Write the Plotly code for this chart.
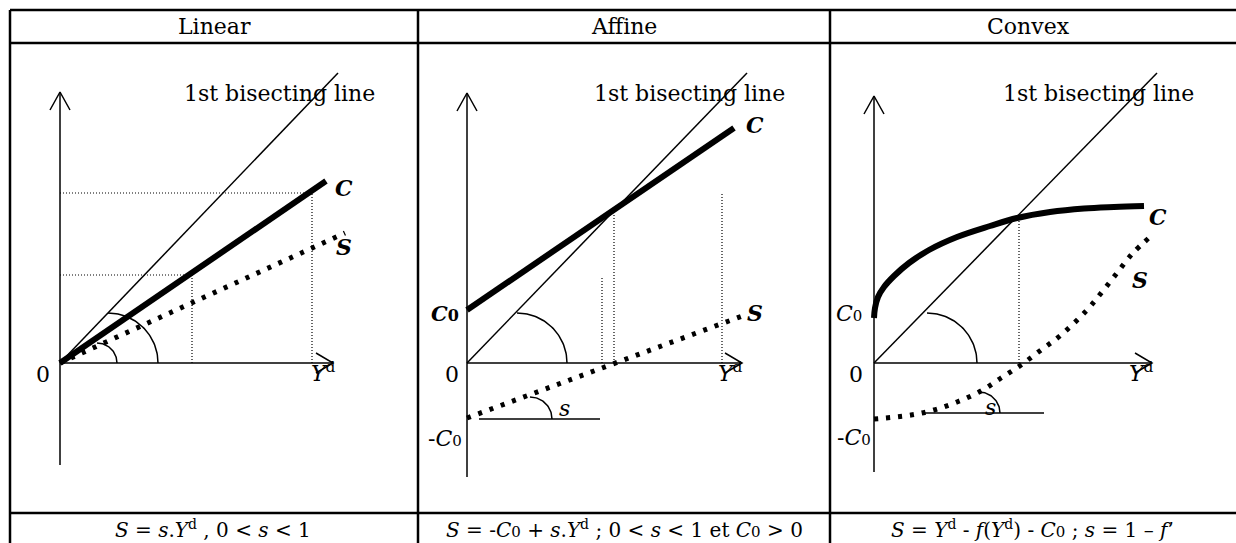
import numpy as np
import plotly.graph_objects as go

W, H = 1236, 543
FONT = "DejaVu Serif"

# table grid, in page pixels
COL_EDGES = [10, 418, 830, 1236]
ROW_EDGES = [10, 43, 513]
HEADERS = ["Linear", "Affine", "Convex"]
SUB0 = "<span style='font-size:15px'>0</span>"
FOOTERS = [
    "<i>S</i> = <i>s</i>.<i>Y</i><sup>d</sup> , 0 &lt; <i>s</i> &lt; 1",
    "<i>S</i> = -<i>C</i>" + SUB0 + " + <i>s</i>.<i>Y</i><sup>d</sup> ; 0 &lt; <i>s</i> &lt; 1 et <i>C</i>" + SUB0 + " &gt; 0",
    "<i>S</i> = <i>Y</i><sup>d</sup> - <i>f</i>(<i>Y</i><sup>d</sup>) - <i>C</i>" + SUB0 + " ; <i>s</i> = 1 – <i>f</i>’",
]
HEADER_X = [214, 624, 1028]
FOOTER_X = [213, 624, 1032]

# origin of each panel (page pixels); panel data below is offset from it, y pointing up
ORIGINS = [(60, 363), (467, 363), (874, 363)]

# ---- Linear panel
LIN_AXIS_TOP, LIN_AXIS_BOTTOM, LIN_AXIS_RIGHT = 271, -102, 273
LIN_BISECT_X = [0, 278]
LIN_BISECT_Y = [0, 290]
LIN_C_X = [0, 266]
LIN_C_Y = [0, 182]
LIN_S_X = [0, 285]
LIN_S_Y = [0, 130]
LIN_GUIDE_H = [(0, 252, 170), (0, 132, 88)]      # (x0, x1, y)
LIN_GUIDE_V = [(252, 0, 170), (132, 0, 88)]      # (x, y0, y1)
LIN_ARCS = [(48, 0, 50), (37, 0, 20)]            # (cx, cy, r)

# ---- Affine panel
AFF_AXIS_TOP, AFF_AXIS_BOTTOM, AFF_AXIS_RIGHT = 270, -114, 275
AFF_BISECT_X = [0, 280]
AFF_BISECT_Y = [0, 290]
AFF_C_X = [0, 267]
AFF_C_Y = [53, 235]
AFF_S_X = [0, 278]
AFF_S_Y = [-55, 48]
AFF_GUIDE_V = [(147, 0, 152), (135, 0, 86), (255, 0, 170)]
AFF_ARCS = [(50, 0, 50), (63, -56, 22)]
AFF_SLOPE_LINE = (12, 133, -56)

# ---- Convex panel
CVX_AXIS_TOP, CVX_AXIS_BOTTOM, CVX_AXIS_RIGHT = 267, -109, 278
CVX_BISECT_X = [0, 283]
CVX_BISECT_Y = [0, 290]
CVX_C_X = [0, 1, 4, 10, 20, 35, 55, 83, 116, 143, 176, 210, 240, 270]
CVX_C_Y = [45, 55, 66, 76, 87, 100, 113, 126, 137, 145, 151, 154.5, 156, 157]
CVX_S_X = [0, 37, 60, 83, 107, 127, 147, 167, 187, 213, 228, 243, 258, 277]
CVX_S_Y = [-56, -52, -47, -39, -28, -15, -2, 13, 28, 53, 71, 90, 109, 127]
CVX_GUIDE_V = [(145, 0, 146)]
CVX_ARCS = [(53, 0, 50), (105, -50, 21)]
CVX_SLOPE_LINE = (50, 170, -50)

fig = go.Figure()
AX = [("x", "y"), ("x2", "y2"), ("x3", "y3")]


def add_line(i, xs, ys, width=1.5, dash="solid", shape="linear"):
    fig.add_trace(go.Scatter(
        x=xs, y=ys, mode="lines", xaxis=AX[i][0], yaxis=AX[i][1],
        line=dict(color="black", width=width, dash=dash, shape=shape),
        hoverinfo="skip", showlegend=False,
    ))


def add_arc(i, cx, cy, r):
    t = np.linspace(0, np.pi / 2, 40)
    add_line(i, list(cx + r * np.cos(t)), list(cy + r * np.sin(t)), width=1.5)


def add_axes(i, top, bottom, right):
    add_line(i, [0, 0], [bottom, top])
    add_line(i, [-10, 0, 10], [top - 18, top, top - 18])
    add_line(i, [0, right], [0, 0])
    add_line(i, [right - 17, right, right - 17], [10, 0, -10])


def label(i, x, y, text, size=22, bold=False, italic=False):
    if italic:
        text = "<i>" + text + "</i>"
    if bold:
        text = "<b>" + text + "</b>"
    fig.add_annotation(x=x, y=y, xref=AX[i][0], yref=AX[i][1], text=text,
                       showarrow=False, xanchor="center", yanchor="middle",
                       font=dict(family=FONT, size=size, color="black"))


DOTS = "4px,8px"
GUIDE = "1px,2px"

# Linear
add_axes(0, LIN_AXIS_TOP, LIN_AXIS_BOTTOM, LIN_AXIS_RIGHT)
add_line(0, LIN_BISECT_X, LIN_BISECT_Y, width=1.5)
for x0, x1, y in LIN_GUIDE_H:
    add_line(0, [x0, x1], [y, y], width=1.2, dash=GUIDE)
for x, y0, y1 in LIN_GUIDE_V:
    add_line(0, [x, x], [y0, y1], width=1.2, dash=GUIDE)
add_line(0, LIN_C_X, LIN_C_Y, width=6)
add_line(0, LIN_S_X, LIN_S_Y, width=5, dash=DOTS)
for cx, cy, r in LIN_ARCS:
    add_arc(0, cx, cy, r)
label(0, 219, 270, "1st bisecting line")
label(0, 284, 175, "C", size=22, bold=True, italic=True)
label(0, 284, 116, "S", size=22, bold=True, italic=True)
label(0, -17, -11, "0")
label(0, 263, -9, "<i>Y</i><sup>d</sup>")

# Affine
add_axes(1, AFF_AXIS_TOP, AFF_AXIS_BOTTOM, AFF_AXIS_RIGHT)
add_line(1, AFF_BISECT_X, AFF_BISECT_Y, width=1.5)
for x, y0, y1 in AFF_GUIDE_V:
    add_line(1, [x, x], [y0, y1], width=1.2, dash=GUIDE)
add_line(1, AFF_C_X, AFF_C_Y, width=6)
add_line(1, AFF_S_X, AFF_S_Y, width=5, dash=DOTS)
for cx, cy, r in AFF_ARCS:
    add_arc(1, cx, cy, r)
x0, x1, y = AFF_SLOPE_LINE
add_line(1, [x0, x1], [y, y])
label(1, 222, 270, "1st bisecting line")
label(1, 288, 238, "C", size=22, bold=True, italic=True)
label(1, 288, 50, "S", size=22, bold=True, italic=True)
label(1, -22, 50, "<i>C</i><span style='font-size:16px'>0</span>", size=21, bold=True)
label(1, -15, -11, "0")
label(1, -22, -75, "-<i>C</i>" + SUB0)
label(1, 97, -45, "s", italic=True)
label(1, 263, -9, "<i>Y</i><sup>d</sup>")

# Convex
add_axes(2, CVX_AXIS_TOP, CVX_AXIS_BOTTOM, CVX_AXIS_RIGHT)
add_line(2, CVX_BISECT_X, CVX_BISECT_Y, width=1.5)
for x, y0, y1 in CVX_GUIDE_V:
    add_line(2, [x, x], [y0, y1], width=1.2, dash=GUIDE)
add_line(2, CVX_C_X, CVX_C_Y, width=6, shape="spline")
add_line(2, CVX_S_X, CVX_S_Y, width=5, dash=DOTS, shape="spline")
for cx, cy, r in CVX_ARCS:
    add_arc(2, cx, cy, r)
x0, x1, y = CVX_SLOPE_LINE
add_line(2, [x0, x1], [y, y])
label(2, 224, 270, "1st bisecting line")
label(2, 284, 146, "C", size=22, bold=True, italic=True)
label(2, 266, 83, "S", size=22, bold=True, italic=True)
label(2, -25, 50, "<i>C</i>" + SUB0)
label(2, -18, -11, "0")
label(2, -20, -74, "-<i>C</i>" + SUB0)
label(2, 116, -44, "s", italic=True)
label(2, 267, -9, "<i>Y</i><sup>d</sup>")

# panel axes: 1 data unit = 1 pixel
layout_axes = {}
for i, (ox, oy) in enumerate(ORIGINS):
    sx = "" if i == 0 else str(i + 1)
    layout_axes["xaxis" + sx] = dict(
        domain=[COL_EDGES[i] / W, COL_EDGES[i + 1] / W],
        range=[COL_EDGES[i] - ox, COL_EDGES[i + 1] - ox],
        anchor="y" + sx, visible=False, fixedrange=True,
    )
    layout_axes["yaxis" + sx] = dict(
        domain=[1 - ROW_EDGES[2] / H, 1 - ROW_EDGES[1] / H],
        range=[oy - ROW_EDGES[2], oy - ROW_EDGES[1]],
        anchor="x" + sx, visible=False, fixedrange=True,
    )
fig.update_layout(**layout_axes)

# table borders
shapes = []
for y in ROW_EDGES:
    shapes.append(dict(type="line", xref="paper", yref="paper",
                       x0=COL_EDGES[0] / W, x1=1, y0=1 - y / H, y1=1 - y / H,
                       line=dict(color="black", width=2.5)))
for x in COL_EDGES[:3]:
    shapes.append(dict(type="line", xref="paper", yref="paper",
                       x0=x / W, x1=x / W, y0=0, y1=1 - ROW_EDGES[0] / H,
                       line=dict(color="black", width=2.5)))

annotations = list(fig.layout.annotations)
for hx, txt in zip(HEADER_X, HEADERS):
    annotations.append(dict(x=hx / W, y=1 - 27 / H, xref="paper", yref="paper",
                            text=txt, showarrow=False, xanchor="center", yanchor="middle",
                            font=dict(family=FONT, size=22, color="black")))
for fx, txt in zip(FOOTER_X, FOOTERS):
    annotations.append(dict(x=fx / W, y=1 - 529 / H, xref="paper", yref="paper",
                            text=txt, showarrow=False, xanchor="center", yanchor="middle",
                            font=dict(family=FONT, size=20, color="black")))

fig.update_layout(
    width=W, height=H,
    margin=dict(l=0, r=0, t=0, b=0),
    paper_bgcolor="white", plot_bgcolor="rgba(0,0,0,0)",
    shapes=shapes, annotations=annotations,
    showlegend=False,
)

fig.write_html("out.html", config={"displayModeBar": False},
               post_script="document.body.style.margin='0';document.body.style.overflow='hidden';")
